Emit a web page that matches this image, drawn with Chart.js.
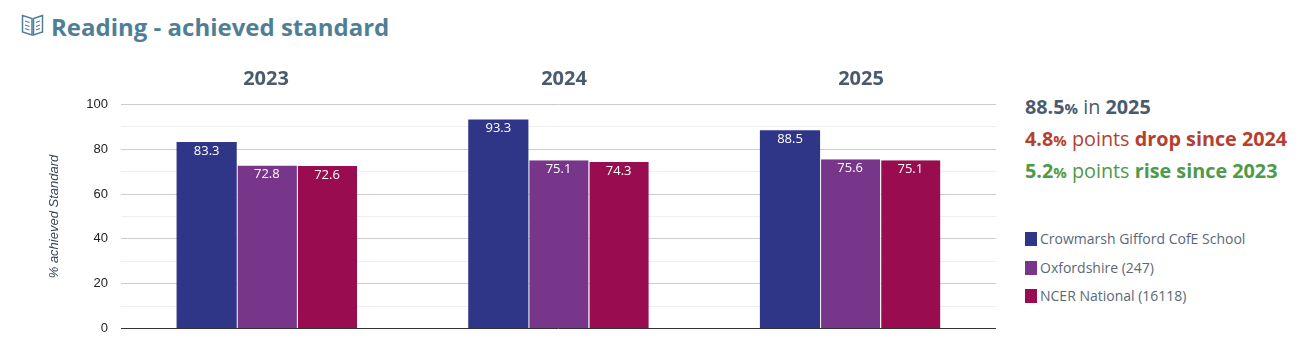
<!DOCTYPE html>
<html>
<head>
<meta charset="utf-8">
<script src="https://cdn.jsdelivr.net/npm/chart.js@4"></script>
<style>
  html, body { margin:0; padding:0; background:#fff; }
  body { width:1303px; height:351px; position:relative; overflow:hidden; font-family:"Open Sans",sans-serif; color:#4a5b6d; }
  #wrap { position:absolute; left:0; top:0; width:1000px; height:351px; }
  .heading { position:absolute; left:51px; top:10px; font-size:24px; font-weight:700; line-height:33px; color:#4f7f96; white-space:nowrap; }
  .icon { position:absolute; left:21px; top:14px; }
  .year { position:absolute; top:64px; width:100px; margin-left:-50px; text-align:center; font-size:20px; font-weight:700; line-height:27px; color:#4a5b6d; }
  .fact { position:absolute; left:1025px; font-size:19.8px; font-weight:400; line-height:26px; white-space:nowrap; }
  .fact b { font-weight:700; }
  .fact b small { font-size:15px; }
  .now { top:94px; color:#4a5b6d; }
  .drop { top:126px; color:#b5402f; }
  .rise { top:158px; color:#4d9a48; }
  .legend-row { position:absolute; left:1025px; font-size:14px; line-height:18px; height:18px; white-space:nowrap; color:#5a6877; }
  .legend-row i { position:absolute; left:0; top:2px; width:12px; height:14px; }
  .legend-row span { position:absolute; left:15px; top:0; }
</style>
</head>
<body>
<svg class="icon" width="24" height="24" viewBox="0 0 24 24" fill="none" stroke="#4f7f96" stroke-width="1.5">
  <path d="M1.5 1.5 L11 4.5 L11 21 L1.5 18 Z"/>
  <path d="M21.5 1.5 L12.5 4.5 L12.5 21 L21.5 18 Z"/>
  <path d="M4 7 L8.5 8.5 M4 11 L8.5 12.5 M4 14.5 L8.5 16 M19 7 L15 8.5 M19 11 L15 12.5 M19 14.5 L15 16" stroke-width="1.3"/>
</svg>
<div class="heading">Reading - achieved standard</div>
<div id="wrap"><canvas id="chart" width="1000" height="351"></canvas></div>
<div id="headers"></div>
<div class="fact now"><b>88.5<small>%</small></b> in <b>2025</b></div>
<div class="fact drop"><b>4.8<small>%</small></b> points <b>drop since 2024</b></div>
<div class="fact rise"><b>5.2<small>%</small></b> points <b>rise since 2023</b></div>
<div id="legend"></div>
<script>
const years = ['2023', '2024', '2025'];
const school = [83.3, 93.3, 88.5];
const county = [72.8, 75.1, 75.6];
const national = [72.6, 74.3, 75.1];
const seriesNames = ['Crowmarsh Gifford CofE School', 'Oxfordshire (247)', 'NCER National (16118)'];
const seriesColors = ['#303687', '#78368b', '#990c50'];
const legendTops = [230, 259, 287];
// year headers are page text above the chart, not spaced like the bars
const headerCentres = [266, 564, 861];

// value labels sit just inside the top of each bar
const barLabels = {
  id: 'barLabels',
  afterDatasetsDraw(chart) {
    const ctx = chart.ctx;
    ctx.save();
    ctx.fillStyle = '#fff';
    ctx.font = '13px "Open Sans"';
    ctx.textAlign = 'center';
    ctx.textBaseline = 'middle';
    chart.data.datasets.forEach((ds, i) => {
      chart.getDatasetMeta(i).data.forEach((bar, j) => {
        ctx.fillText(ds.data[j].toFixed(1), bar.x, bar.y + 9);
      });
    });
    ctx.restore();
  }
};

new Chart(document.getElementById('chart'), {
  type: 'bar',
  plugins: [barLabels],
  data: {
    labels: years,
    datasets: [school, county, national].map((d, i) => ({
      label: seriesNames[i],
      data: d,
      backgroundColor: seriesColors[i],
      borderColor: '#fff',
      borderWidth: { left: i > 0 ? 1 : 0, right: 0, top: 0, bottom: 0 },
      barPercentage: 1,
      categoryPercentage: 0.619
    }))
  },
  options: {
    responsive: false,
    animation: false,
    layout: { padding: { left: 47, right: 4, top: 104.5, bottom: 22.5 } },
    plugins: { legend: { display: false }, tooltip: { enabled: false } },
    scales: {
      x: {
        display: false
      },
      y: {
        min: 0,
        max: 100,
        grid: {
          drawTicks: false,
          color: c => c.tick.value === 0 ? '#333' : (c.tick.value % 20 === 0 ? '#ccc' : '#eee')
        },
        border: { display: false },
        ticks: {
          stepSize: 10,
          padding: 13,
          color: '#222',
          font: { family: 'Liberation Sans', size: 13 },
          callback: v => v % 20 === 0 ? v : ''
        },
        title: {
          display: true,
          text: '% achieved Standard',
          color: '#33475b',
          padding: 0,
          font: { family: 'Liberation Sans', size: 13, style: 'italic' }
        },
        afterFit(s) { s.width = 74; }
      }
    }
  }
});

const headers = document.getElementById('headers');
years.forEach((y, i) => {
  const el = document.createElement('div');
  el.className = 'year';
  el.style.left = headerCentres[i] + 'px';
  el.textContent = y;
  headers.appendChild(el);
});

const legend = document.getElementById('legend');
seriesNames.forEach((n, i) => {
  const row = document.createElement('div');
  row.className = 'legend-row';
  row.style.top = legendTops[i] + 'px';
  row.innerHTML = '<i style="background:' + seriesColors[i] + '"></i><span>' + n + '</span>';
  legend.appendChild(row);
});
</script>
</body>
</html>
